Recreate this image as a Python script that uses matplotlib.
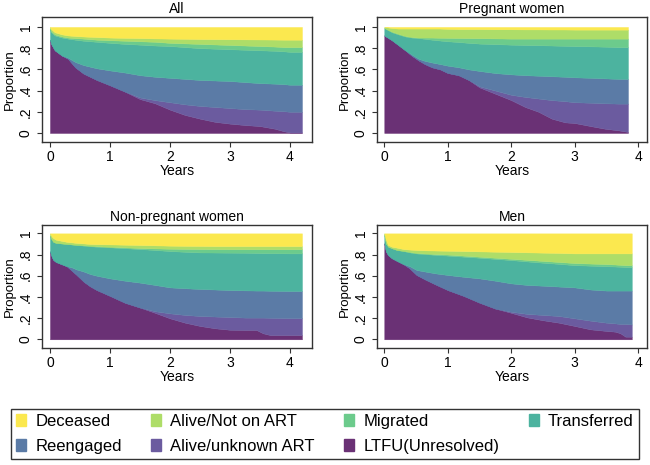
import matplotlib.pyplot as plt
import numpy as np

plt.rcParams['font.family'] = ['Liberation Sans', 'DejaVu Sans']

# stacking order, bottom to top
states = ["LTFU(Unresolved)", "Alive/unknown ART", "Reengaged", "Transferred",
          "Migrated", "Alive/Not on ART", "Deceased"]
colors = ["#6a3175", "#6b5b9f", "#5b7ba6", "#4cb39f", "#6ccb8c", "#aedd68", "#fbe84f"]

# ---- All ---- (upper edge of each cumulative layer)
all_t = [0, 0.02, 0.08, 0.2, 0.3, 0.42, 0.56, 0.78, 1, 1.25, 1.5, 1.75, 2, 2.25,
         2.5, 2.75, 3, 3.25, 3.5, 3.75, 3.9, 4.0, 4.2]
all_ltfu = [0.88, 0.84, 0.78, 0.73, 0.70, 0.62, 0.56, 0.50, 0.45, 0.39, 0.32, 0.28, 0.22, 0.17,
            0.135, 0.105, 0.088, 0.075, 0.065, 0.04, 0.016, 0.005, 0.005]
all_unknown = [0.88, 0.84, 0.78, 0.73, 0.70, 0.62, 0.56, 0.50, 0.45, 0.39, 0.335, 0.31, 0.29, 0.27,
               0.255, 0.245, 0.235, 0.225, 0.22, 0.21, 0.205, 0.20, 0.20]
all_reeng = [0.88, 0.84, 0.78, 0.73, 0.71, 0.67, 0.64, 0.61, 0.59, 0.57, 0.545, 0.53, 0.52, 0.51,
             0.50, 0.495, 0.49, 0.48, 0.47, 0.465, 0.46, 0.455, 0.455]
all_transf = [0.98, 0.95, 0.92, 0.90, 0.89, 0.88, 0.87, 0.86, 0.85, 0.84, 0.833, 0.825, 0.82, 0.81,
              0.80, 0.795, 0.79, 0.785, 0.78, 0.775, 0.77, 0.765, 0.765]
all_migr = [0.985, 0.96, 0.93, 0.91, 0.90, 0.895, 0.89, 0.88, 0.875, 0.87, 0.865, 0.86, 0.85, 0.845,
            0.84, 0.835, 0.83, 0.825, 0.82, 0.815, 0.81, 0.81, 0.81]
all_notart = [1.0, 0.98, 0.95, 0.93, 0.92, 0.915, 0.91, 0.905, 0.90, 0.897, 0.895, 0.892, 0.89, 0.888,
              0.886, 0.885, 0.884, 0.883, 0.882, 0.881, 0.88, 0.88, 0.88]

# ---- Pregnant women ----
preg_t = [0, 0.12, 0.22, 0.33, 0.43, 0.54, 0.64, 0.75, 0.88, 1, 1.17, 1.33, 1.5, 1.75, 2, 2.22,
          2.43, 2.64, 2.85, 3, 3.27, 3.48, 3.69, 3.84]
preg_ltfu = [0.92, 0.875, 0.83, 0.78, 0.73, 0.685, 0.65, 0.62, 0.60, 0.566, 0.545, 0.50, 0.43, 0.37,
             0.31, 0.245, 0.20, 0.135, 0.10, 0.094, 0.063, 0.04, 0.025, 0.01]
preg_unknown = [0.92, 0.875, 0.83, 0.78, 0.73, 0.685, 0.65, 0.62, 0.60, 0.566, 0.545, 0.50, 0.44, 0.40,
                0.36, 0.34, 0.325, 0.31, 0.30, 0.29, 0.285, 0.28, 0.277, 0.277]
preg_reeng = [0.92, 0.875, 0.83, 0.78, 0.74, 0.70, 0.68, 0.665, 0.65, 0.635, 0.62, 0.60, 0.585, 0.565,
              0.553, 0.545, 0.54, 0.535, 0.53, 0.525, 0.52, 0.515, 0.51, 0.51]
preg_transf = [0.99, 0.95, 0.93, 0.91, 0.90, 0.895, 0.888, 0.88, 0.872, 0.865, 0.858, 0.85, 0.843, 0.838,
               0.833, 0.83, 0.828, 0.825, 0.822, 0.82, 0.817, 0.814, 0.81, 0.81]
preg_migr = [0.99, 0.955, 0.935, 0.915, 0.905, 0.90, 0.90, 0.90, 0.898, 0.897, 0.896, 0.895, 0.894, 0.892,
             0.89, 0.89, 0.89, 0.89, 0.89, 0.89, 0.89, 0.89, 0.89, 0.89]
preg_notart = [1.0, 0.99, 0.985, 0.985, 0.985, 0.985, 0.985, 0.985, 0.985, 0.982, 0.98, 0.98, 0.98, 0.978,
               0.978, 0.977, 0.977, 0.976, 0.976, 0.975, 0.975, 0.975, 0.975, 0.975]

# ---- Non-pregnant women ----
nonp_t = [0, 0.03, 0.055, 0.1, 0.19, 0.28, 0.36, 0.44, 0.56, 0.67, 0.78, 1, 1.25, 1.5, 1.75, 2,
          2.25, 2.5, 2.75, 3, 3.25, 3.44, 3.55, 3.67, 4.0, 4.2]
nonp_ltfu = [0.83, 0.78, 0.75, 0.73, 0.71, 0.69, 0.65, 0.61, 0.545, 0.50, 0.465, 0.41, 0.345, 0.30, 0.25,
             0.198, 0.157, 0.126, 0.104, 0.09, 0.088, 0.088, 0.057, 0.04, 0.04, 0.04]
nonp_unknown = [0.83, 0.78, 0.75, 0.73, 0.71, 0.69, 0.65, 0.61, 0.545, 0.50, 0.465, 0.41, 0.345, 0.30, 0.265,
                0.245, 0.23, 0.22, 0.215, 0.21, 0.205, 0.205, 0.205, 0.203, 0.20, 0.20]
nonp_reeng = [0.83, 0.78, 0.75, 0.73, 0.71, 0.69, 0.68, 0.66, 0.64, 0.616, 0.60, 0.575, 0.553, 0.535, 0.513,
              0.49, 0.482, 0.475, 0.47, 0.465, 0.462, 0.46, 0.46, 0.458, 0.456, 0.456]
nonp_transf = [0.98, 0.94, 0.92, 0.91, 0.905, 0.90, 0.895, 0.89, 0.884, 0.878, 0.874, 0.868, 0.86, 0.852,
               0.843, 0.833, 0.826, 0.82, 0.819, 0.818, 0.817, 0.815, 0.814, 0.813, 0.811, 0.811]
nonp_migr = [0.98, 0.94, 0.92, 0.91, 0.905, 0.90, 0.896, 0.892, 0.888, 0.883, 0.879, 0.873, 0.868, 0.862,
             0.858, 0.855, 0.853, 0.852, 0.851, 0.85, 0.85, 0.85, 0.85, 0.85, 0.85, 0.85]
nonp_notart = [1.0, 0.97, 0.955, 0.94, 0.93, 0.92, 0.915, 0.91, 0.905, 0.9, 0.898, 0.896, 0.893, 0.89,
               0.887, 0.884, 0.882, 0.881, 0.88, 0.88, 0.88, 0.88, 0.88, 0.88, 0.88, 0.88]

# ---- Men ----
men_t = [0, 0.026, 0.06, 0.12, 0.2, 0.3, 0.4, 0.51, 0.64, 0.8, 1, 1.25, 1.5, 1.75, 2, 2.25, 2.5,
         2.75, 3, 3.25, 3.5, 3.64, 3.72, 3.8, 3.9]
men_ltfu = [0.905, 0.83, 0.795, 0.765, 0.74, 0.71, 0.67, 0.607, 0.566, 0.52, 0.465, 0.41, 0.346, 0.29,
            0.25, 0.207, 0.18, 0.157, 0.126, 0.094, 0.079, 0.072, 0.057, 0.025, 0.025]
men_unknown = [0.905, 0.83, 0.795, 0.765, 0.74, 0.71, 0.67, 0.607, 0.566, 0.52, 0.465, 0.41, 0.346, 0.29,
               0.26, 0.24, 0.23, 0.22, 0.198, 0.176, 0.157, 0.15, 0.145, 0.145, 0.14]
men_reeng = [0.905, 0.83, 0.795, 0.765, 0.74, 0.71, 0.69, 0.654, 0.64, 0.623, 0.607, 0.59, 0.575, 0.553,
             0.528, 0.513, 0.506, 0.498, 0.49, 0.47, 0.46, 0.46, 0.46, 0.46, 0.46]
men_transf = [0.985, 0.905, 0.875, 0.86, 0.843, 0.833, 0.82, 0.81, 0.805, 0.797, 0.79, 0.78, 0.77, 0.759,
              0.748, 0.735, 0.723, 0.712, 0.70, 0.695, 0.69, 0.687, 0.685, 0.682, 0.68]
men_migr = [0.985, 0.905, 0.875, 0.86, 0.843, 0.835, 0.825, 0.815, 0.81, 0.805, 0.80, 0.79, 0.78, 0.77,
            0.76, 0.75, 0.74, 0.73, 0.72, 0.715, 0.71, 0.706, 0.703, 0.70, 0.70]
men_notart = [1.0, 0.94, 0.89, 0.874, 0.865, 0.852, 0.847, 0.843, 0.84, 0.838, 0.836, 0.833, 0.83, 0.827,
              0.824, 0.821, 0.818, 0.815, 0.811, 0.811, 0.811, 0.811, 0.811, 0.811, 0.811]

fig = plt.figure(figsize=(6.5, 4.65), dpi=100)


def panel(rect, title, t, tops, xlim, ylim):
    ax = fig.add_axes(rect)
    t = np.array(t)
    edges = [np.zeros(len(t))] + [np.array(v) for v in tops] + [np.ones(len(t))]
    for i in range(len(states)):
        ax.fill_between(t, edges[i], edges[i + 1], facecolor=colors[i],
                        edgecolor=colors[i], linewidth=0.3)
    ax.set_xlim(*xlim)
    ax.set_ylim(*ylim)
    ax.set_xticks([0, 1, 2, 3, 4])
    ax.set_yticks([0, 0.2, 0.4, 0.6, 0.8, 1])
    ax.set_yticklabels(["0", ".2", ".4", ".6", ".8", "1"], rotation=90, va="center")
    ax.tick_params(labelsize=10, length=3.5, width=0.8, color="#333333")
    ax.tick_params(axis="x", pad=2)
    ax.tick_params(axis="y", pad=3)
    for s in ax.spines.values():
        s.set_color("#333333")
        s.set_linewidth(1)
    ax.set_title(title, fontsize=10, pad=3)
    ax.set_xlabel("Years", fontsize=10, labelpad=0)
    ax.set_ylabel("Proportion", fontsize=9.5, labelpad=2)
    return ax


W, H = 650, 465
panel([42 / W, 1 - 142 / H, 270 / W, 125 / H], "All", all_t,
      [all_ltfu, all_unknown, all_reeng, all_transf, all_migr, all_notart], (-0.133, 4.367), (-0.085, 1.094))
panel([377 / W, 1 - 142 / H, 270 / W, 125 / H], "Pregnant women", preg_t,
      [preg_ltfu, preg_unknown, preg_reeng, preg_transf, preg_migr, preg_notart], (-0.115, 4.14), (-0.085, 1.094))
panel([42 / W, 1 - 348 / H, 270 / W, 123 / H], "Non-pregnant women", nonp_t,
      [nonp_ltfu, nonp_unknown, nonp_reeng, nonp_transf, nonp_migr, nonp_notart], (-0.133, 4.367), (-0.082, 1.079))
panel([377 / W, 1 - 348 / H, 270 / W, 123 / H], "Men", men_t,
      [men_ltfu, men_unknown, men_reeng, men_transf, men_migr, men_notart], (-0.115, 4.14), (-0.082, 1.079))

# legend: column-major order so it reads like the original
order = [6, 2, 5, 1, 4, 0, 3]
handles = [plt.Rectangle((0, 0), 1, 1, color=colors[i]) for i in order]
labels = [states[i] for i in order]
leg = fig.legend(handles, labels, ncol=4, loc="center", mode="expand",
                 bbox_to_anchor=(3 / W, 3 / H, 644 / W, 56 / H), fontsize=12,
                 handlelength=0.6, handleheight=0.75, handletextpad=0.55,
                 labelspacing=0.6, borderpad=0.3, fancybox=False, framealpha=1)
leg.get_frame().set_edgecolor("#333333")
leg.get_frame().set_linewidth(1)

fig.savefig("out.png", dpi=100)
